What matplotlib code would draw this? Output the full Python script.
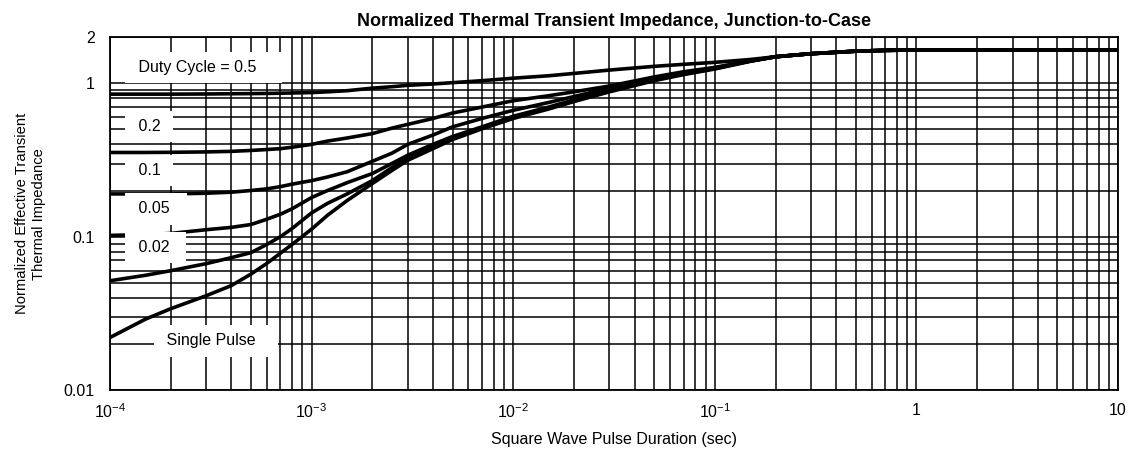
import matplotlib
matplotlib.use('Agg')
import matplotlib.pyplot as plt
import numpy as np

plt.rcParams['font.family'] = ['Liberation Sans', 'DejaVu Sans']
plt.rcParams['mathtext.fontset'] = 'custom'
plt.rcParams['mathtext.rm'] = 'Liberation Sans'
plt.rcParams['mathtext.it'] = 'Liberation Sans'

# pulse duration (sec)
t = [1e-4, 1.5e-4, 2e-4, 3e-4, 4e-4, 5e-4, 6e-4, 7e-4, 8e-4, 1e-3, 1.2e-3, 1.5e-3,
     2e-3, 2.5e-3, 3e-3, 4e-3, 5e-3, 7e-3, 1e-2, 1.5e-2, 2e-2, 3e-2, 5e-2, 7e-2,
     0.1, 0.15, 0.2, 0.3, 0.5, 0.7, 1, 10]

# normalized impedance for each duty cycle
z_05 = [0.85, 0.85, 0.85, 0.852, 0.855, 0.857, 0.859, 0.862, 0.865, 0.87, 0.88, 0.895,
        0.93, 0.95, 0.97, 0.99, 1.01, 1.04, 1.08, 1.12, 1.16, 1.22, 1.29, 1.33,
        1.37, 1.43, 1.49, 1.56, 1.62, 1.64, 1.65, 1.65]
z_02 = [0.354, 0.354, 0.355, 0.357, 0.36, 0.365, 0.37, 0.375, 0.383, 0.40, 0.42, 0.44,
        0.47, 0.51, 0.54, 0.59, 0.64, 0.70, 0.77, 0.83, 0.88, 0.96, 1.10, 1.19,
        1.27, 1.40, 1.49, 1.56, 1.62, 1.64, 1.65, 1.65]
z_01 = [0.19, 0.19, 0.19, 0.192, 0.195, 0.20, 0.205, 0.212, 0.22, 0.232, 0.245, 0.265,
        0.31, 0.35, 0.40, 0.46, 0.52, 0.59, 0.667, 0.75, 0.82, 0.93, 1.07, 1.17,
        1.26, 1.40, 1.49, 1.56, 1.62, 1.64, 1.65, 1.65]
z_005 = [0.102, 0.103, 0.105, 0.111, 0.115, 0.12, 0.13, 0.14, 0.152, 0.18, 0.20, 0.225,
         0.258, 0.30, 0.34, 0.40, 0.45, 0.52, 0.61, 0.70, 0.78, 0.90, 1.06, 1.16,
         1.25, 1.40, 1.49, 1.56, 1.62, 1.64, 1.65, 1.65]
z_002 = [0.0516, 0.056, 0.06, 0.0667, 0.073, 0.0787, 0.089, 0.10, 0.113, 0.143, 0.165, 0.19,
         0.232, 0.282, 0.325, 0.385, 0.44, 0.51, 0.60, 0.69, 0.77, 0.89, 1.05, 1.15,
         1.25, 1.40, 1.49, 1.56, 1.62, 1.64, 1.65, 1.65]
z_single = [0.022, 0.029, 0.0339, 0.0412, 0.048, 0.057, 0.067, 0.078, 0.089, 0.112, 0.138, 0.172,
            0.222, 0.27, 0.315, 0.375, 0.43, 0.505, 0.59, 0.68, 0.76, 0.88, 1.04, 1.14,
            1.24, 1.39, 1.49, 1.56, 1.62, 1.64, 1.65, 1.65]

curves = [z_05, z_02, z_01, z_005, z_002, z_single]

# curve labels (padded with spaces like the white gaps in the grid)
labels = [' Duty Cycle = 0.5    ', ' 0.2 ', ' 0.1 ', ' 0.05  ', ' 0.02  ', ' Single Pulse   ']
label_x = [1.31e-4, 1.31e-4, 1.31e-4, 1.31e-4, 1.31e-4, 1.82e-4]
label_y = [1.27, 0.524, 0.270, 0.152, 0.0848, 0.0209]

fig = plt.figure(figsize=(11.46, 4.53), dpi=100)
ax = fig.add_axes([0.096, 0.139, 0.8796, 0.779])

for z in curves:
    ax.plot(t, z, color='black', lw=2.6, solid_capstyle='butt',
            solid_joinstyle='round', zorder=2)

for lab, lx, ly in zip(labels, label_x, label_y):
    ax.text(lx, ly, lab, fontsize=11.5, ha='left', va='center', zorder=3,
            bbox=dict(facecolor='white', edgecolor='none', pad=6))

ax.set_xscale('log')
ax.set_yscale('log')
ax.set_xlim(1e-4, 10)
ax.set_ylim(0.01, 2)

ax.set_xticks([1e-4, 1e-3, 1e-2, 1e-1, 1, 10],
              ['$10^{-4}$', '$10^{-3}$', '$10^{-2}$', '$10^{-1}$', '1', '10'])
ax.set_yticks([0.01, 0.1, 1, 2], ['0.01', '0.1', '1', '2'])
ax.tick_params(which='both', length=0, labelsize=11.5)
ax.tick_params(axis='x', pad=9)
ax.tick_params(axis='y', pad=11)

ax.set_axisbelow(True)
ax.grid(True, which='both', color='black', lw=1.1)
for s in ax.spines.values():
    s.set_linewidth(1.3)

ax.set_title('Normalized Thermal Transient Impedance, Junction-to-Case',
             fontsize=13, fontweight='bold', pad=8)
ax.set_xlabel('Square Wave Pulse Duration (sec)', fontsize=11.5, labelpad=8)
ax.set_ylabel('Normalized Effective Transient\nThermal Impedance', fontsize=10.6,
              labelpad=13)

fig.savefig('out.png', dpi=100)
